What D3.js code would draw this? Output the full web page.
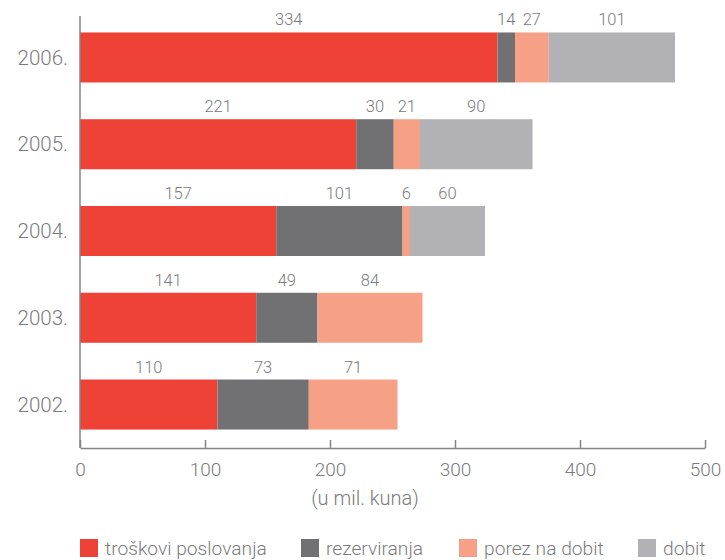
<!DOCTYPE html>
<html><head><meta charset="utf-8">
<script src="https://cdn.jsdelivr.net/npm/d3@7"></script>
<style>
html,body{margin:0;padding:0;background:#fff;}
svg{display:block;font-family:"Roboto","Liberation Sans",Arial,sans-serif;font-weight:300;}
</style></head>
<body><svg id="c" width="725" height="560"></svg>
<script>
const years = ["2006.", "2005.", "2004.", "2003.", "2002."];
const seriesNames = ["troškovi poslovanja", "rezerviranja", "porez na dobit", "dobit"];
const troskovi = [334, 221, 157, 141, 110];
const rezerviranja = [14, 30, 101, 49, 73];
const porez = [27, 21, 6, 84, 71];
const dobit = [101, 90, 60, 0, 0];
const xTicks = [0, 100, 200, 300, 400, 500];
const axisTitle = "(u mil. kuna)";
const colors = ["#EF4237", "#717073", "#F6A186", "#B2B1B5"];

const table = years.map((y, i) => ({
  year: y,
  [seriesNames[0]]: troskovi[i],
  [seriesNames[1]]: rezerviranja[i],
  [seriesNames[2]]: porez[i],
  [seriesNames[3]]: dobit[i]
}));

const FONT = "Roboto, Liberation Sans, Arial, sans-serif";
const svg = d3.select("#c");
const x = d3.scaleLinear().domain([0, 500]).range([80, 705]);
const y = d3.scaleBand().domain(years).range([14.5, 447.5]).paddingInner(0.4236).paddingOuter(0.207);
const color = d3.scaleOrdinal().domain(seriesNames).range(colors);
const stack = d3.stack().keys(seriesNames)(table);
const textCol = "#7b7b7d";

const layers = svg.append("g").selectAll("g").data(stack).join("g").attr("fill", d => color(d.key));
layers.selectAll("rect").data(d => d.filter(s => s[1] - s[0] > 0)).join("rect")
  .attr("x", d => x(d[0]))
  .attr("y", d => y(d.data.year))
  .attr("width", d => x(d[1]) - x(d[0]))
  .attr("height", y.bandwidth());

layers.selectAll("text").data(d => d.filter(s => s[1] - s[0] > 0).map(s => ({s, key: d.key}))).join("text")
  .attr("x", d => (x(d.s[0]) + x(d.s[1])) / 2)
  .attr("y", d => y(d.s.data.year) - 7)
  .attr("text-anchor", "middle")
  .attr("fill", textCol)
  .attr("font-size", 16.5)
  .text(d => d.s[1] - d.s[0]);

const xAxis = d3.axisBottom(x).tickValues(xTicks).tickSizeInner(-8).tickSizeOuter(0).tickPadding(0);
const gx = svg.append("g").attr("transform", "translate(0,448)").call(xAxis);
gx.select(".domain").attr("stroke", "#858587").attr("stroke-width", 1.5);
gx.selectAll(".tick line").attr("stroke", "#858587").attr("stroke-width", 1.5);
gx.selectAll(".tick text").attr("fill", textCol).attr("font-size", 19)
  .attr("font-family", FONT).attr("font-weight", 300).attr("y", 28).attr("dy", 0);

const yAxis = d3.axisLeft(y).tickSize(0).tickPadding(12);
const gy = svg.append("g").attr("transform", "translate(80,0)").call(yAxis);
gy.select(".domain").attr("stroke", "#858587").attr("stroke-width", 1.5).attr("d", "M0,16V448");
gy.selectAll(".tick text").attr("fill", textCol).attr("font-size", 20.5)
  .attr("font-family", FONT).attr("font-weight", 300).attr("dy", "0.35em");

svg.append("text").attr("x", 365).attr("y", 505).attr("text-anchor", "middle")
  .attr("fill", textCol).attr("font-size", 20).text(axisTitle);

const legendX = [80, 301, 459, 638];
const lg = svg.append("g").selectAll("g").data(seriesNames).join("g")
  .attr("transform", (d, i) => `translate(${legendX[i]},539)`);
lg.append("rect").attr("width", 18).attr("height", 18).attr("fill", d => color(d));
lg.append("text").attr("x", 25).attr("y", 15.5).attr("fill", textCol).attr("font-size", 19.2).text(d => d);
</script></body></html>
